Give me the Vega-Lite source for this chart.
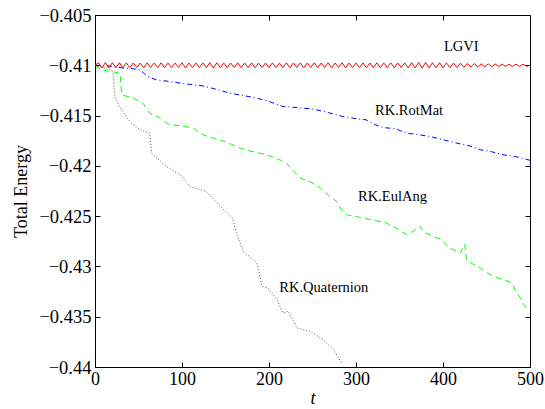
{
  "$schema": "https://vega.github.io/schema/vega-lite/v6.json",
  "width": 435,
  "height": 352,
  "autosize": {"type": "none"},
  "padding": {"left": 95, "top": 15, "right": 15, "bottom": 42},
  "background": "white",
  "config": {
    "view": {"stroke": "black", "strokeWidth": 1},
    "font": "Liberation Serif",
    "axis": {
      "grid": false,
      "domainColor": "black",
      "tickColor": "black",
      "tickSize": -5,
      "labelFlush": false,
      "labelFont": "Liberation Serif",
      "labelFontSize": 18,
      "labelColor": "black",
      "titleFont": "Liberation Serif",
      "titleFontSize": 18,
      "titleFontWeight": "normal",
      "titleColor": "black"
    }
  },
  "resolve": {"axis": {"x": "independent", "y": "independent"}},
  "datasets": {
    "lgvi": [
      {"t":0,"E":-0.41},{"t":4,"E":-0.40974},{"t":8,"E":-0.41026},{"t":12,"E":-0.40972},{"t":16,"E":-0.41026},{"t":20,"E":-0.40974},{"t":24,"E":-0.41024},{"t":28,"E":-0.40974},{"t":32,"E":-0.41026},{"t":36,"E":-0.40976},{"t":40,"E":-0.41024},{"t":44,"E":-0.40978},{"t":48,"E":-0.41022},{"t":52,"E":-0.40978},{"t":56,"E":-0.41024},{"t":60,"E":-0.40976},{"t":64,"E":-0.41022},{"t":68,"E":-0.40978},{"t":72,"E":-0.41022},{"t":76,"E":-0.40976},{"t":80,"E":-0.41024},{"t":84,"E":-0.40978},{"t":88,"E":-0.41022},{"t":92,"E":-0.40978},{"t":96,"E":-0.41022},{"t":100,"E":-0.40976},{"t":104,"E":-0.41024},{"t":108,"E":-0.40978},{"t":112,"E":-0.41022},{"t":116,"E":-0.40978},{"t":120,"E":-0.41022},{"t":124,"E":-0.40976},{"t":128,"E":-0.41024},{"t":132,"E":-0.40974},{"t":136,"E":-0.41026},{"t":140,"E":-0.40976},{"t":144,"E":-0.41024},{"t":148,"E":-0.40978},{"t":152,"E":-0.41022},{"t":156,"E":-0.40978},{"t":160,"E":-0.41022},{"t":164,"E":-0.40976},{"t":168,"E":-0.41024},{"t":172,"E":-0.40978},{"t":176,"E":-0.41022},{"t":180,"E":-0.40976},{"t":184,"E":-0.41024},{"t":188,"E":-0.40978},{"t":192,"E":-0.41022},{"t":196,"E":-0.40978},{"t":200,"E":-0.41022},{"t":204,"E":-0.40976},{"t":208,"E":-0.41024},{"t":212,"E":-0.40978},{"t":216,"E":-0.41022},{"t":220,"E":-0.40976},{"t":224,"E":-0.41024},{"t":228,"E":-0.40978},{"t":232,"E":-0.41022},{"t":236,"E":-0.40976},{"t":240,"E":-0.41024},{"t":244,"E":-0.40978},{"t":248,"E":-0.41022},{"t":252,"E":-0.40976},{"t":256,"E":-0.41024},{"t":260,"E":-0.40978},{"t":264,"E":-0.41022},{"t":268,"E":-0.40976},{"t":272,"E":-0.41024},{"t":276,"E":-0.40978},{"t":280,"E":-0.41022},{"t":284,"E":-0.40976},{"t":288,"E":-0.41024},{"t":292,"E":-0.40978},{"t":296,"E":-0.41022},{"t":300,"E":-0.40978},{"t":304,"E":-0.41022},{"t":308,"E":-0.40976},{"t":312,"E":-0.41024},{"t":316,"E":-0.40978},{"t":320,"E":-0.41022},{"t":324,"E":-0.40976},{"t":328,"E":-0.41024},{"t":332,"E":-0.40978},{"t":336,"E":-0.41022},{"t":340,"E":-0.40976},{"t":344,"E":-0.41024},{"t":348,"E":-0.40978},{"t":352,"E":-0.41022},{"t":356,"E":-0.40976},{"t":360,"E":-0.41026},{"t":364,"E":-0.40974},{"t":368,"E":-0.41026},{"t":372,"E":-0.40972},{"t":376,"E":-0.41028},{"t":380,"E":-0.40972},{"t":384,"E":-0.41026},{"t":388,"E":-0.40974},{"t":392,"E":-0.41026},{"t":396,"E":-0.40974},{"t":400,"E":-0.41024},{"t":404,"E":-0.40976},{"t":408,"E":-0.41024},{"t":412,"E":-0.40978},{"t":416,"E":-0.41022},{"t":420,"E":-0.4098},{"t":424,"E":-0.4102},{"t":428,"E":-0.40982},{"t":432,"E":-0.41018},{"t":436,"E":-0.40983},{"t":440,"E":-0.41017},{"t":444,"E":-0.40985},{"t":448,"E":-0.41015},{"t":452,"E":-0.40986},{"t":456,"E":-0.41014},{"t":460,"E":-0.40988},{"t":464,"E":-0.41012},{"t":468,"E":-0.40988},{"t":472,"E":-0.41012},{"t":476,"E":-0.40989},{"t":480,"E":-0.41011},{"t":484,"E":-0.40989},{"t":488,"E":-0.41011},{"t":492,"E":-0.4099},{"t":496,"E":-0.4101},{"t":500,"E":-0.41}
    ],
    "rotmat": [
      {"t":0,"E":-0.41},{"t":10,"E":-0.41005},{"t":20,"E":-0.4101},{"t":30,"E":-0.41025},{"t":40,"E":-0.4103},{"t":52,"E":-0.41046},{"t":60,"E":-0.4111},{"t":71,"E":-0.41146},{"t":85,"E":-0.4116},{"t":98,"E":-0.41178},{"t":110,"E":-0.4119},{"t":124,"E":-0.41205},{"t":140,"E":-0.4124},{"t":155,"E":-0.41277},{"t":170,"E":-0.413},{"t":186,"E":-0.41327},{"t":200,"E":-0.4136},{"t":216,"E":-0.4141},{"t":232,"E":-0.4142},{"t":251,"E":-0.41436},{"t":268,"E":-0.4147},{"t":285,"E":-0.4151},{"t":300,"E":-0.4153},{"t":312,"E":-0.41543},{"t":322,"E":-0.4159},{"t":331,"E":-0.41619},{"t":345,"E":-0.4163},{"t":358,"E":-0.41675},{"t":372,"E":-0.4169},{"t":385,"E":-0.41708},{"t":400,"E":-0.4174},{"t":416,"E":-0.41774},{"t":430,"E":-0.418},{"t":443,"E":-0.4184},{"t":456,"E":-0.4186},{"t":469,"E":-0.4189},{"t":485,"E":-0.4191},{"t":500,"E":-0.41945}
    ],
    "eulang": [
      {"t":0,"E":-0.41},{"t":8,"E":-0.41046},{"t":19,"E":-0.41063},{"t":29,"E":-0.4108},{"t":30,"E":-0.4123},{"t":31,"E":-0.41294},{"t":44,"E":-0.41327},{"t":55,"E":-0.41377},{"t":63,"E":-0.41476},{"t":75,"E":-0.41526},{"t":84,"E":-0.41586},{"t":98,"E":-0.41602},{"t":113,"E":-0.41625},{"t":124,"E":-0.4169},{"t":136,"E":-0.41725},{"t":150,"E":-0.4176},{"t":167,"E":-0.41824},{"t":182,"E":-0.4186},{"t":197,"E":-0.4189},{"t":210,"E":-0.4193},{"t":220,"E":-0.41973},{"t":228,"E":-0.4205},{"t":236,"E":-0.42122},{"t":248,"E":-0.4216},{"t":259,"E":-0.42221},{"t":268,"E":-0.4229},{"t":278,"E":-0.42354},{"t":283,"E":-0.4243},{"t":289,"E":-0.42486},{"t":298,"E":-0.425},{"t":308,"E":-0.42519},{"t":320,"E":-0.4254},{"t":335,"E":-0.42568},{"t":346,"E":-0.4262},{"t":358,"E":-0.42684},{"t":366,"E":-0.4265},{"t":370,"E":-0.4262},{"t":374,"E":-0.42602},{"t":378,"E":-0.4266},{"t":389,"E":-0.42701},{"t":397,"E":-0.4273},{"t":408,"E":-0.42817},{"t":420,"E":-0.42866},{"t":425,"E":-0.4278},{"t":427,"E":-0.42933},{"t":435,"E":-0.4298},{"t":443,"E":-0.43016},{"t":452,"E":-0.4307},{"t":462,"E":-0.43115},{"t":470,"E":-0.4313},{"t":479,"E":-0.43165},{"t":485,"E":-0.43264},{"t":490,"E":-0.4333},{"t":494,"E":-0.43397},{"t":500,"E":-0.4343}
    ],
    "quat": [
      {"t":0,"E":-0.41},{"t":11.5,"E":-0.41029},{"t":19,"E":-0.41046},{"t":21,"E":-0.41096},{"t":22,"E":-0.41228},{"t":23,"E":-0.41327},{"t":30.6,"E":-0.41443},{"t":40,"E":-0.4156},{"t":52,"E":-0.41642},{"t":63,"E":-0.41675},{"t":65,"E":-0.41873},{"t":82,"E":-0.42006},{"t":98,"E":-0.42089},{"t":109,"E":-0.42205},{"t":128,"E":-0.42254},{"t":144,"E":-0.42403},{"t":158,"E":-0.4252},{"t":163,"E":-0.4268},{"t":166,"E":-0.4275},{"t":170.5,"E":-0.4285},{"t":186,"E":-0.42965},{"t":192,"E":-0.43198},{"t":199,"E":-0.43214},{"t":209,"E":-0.4333},{"t":216,"E":-0.43463},{"t":222,"E":-0.43446},{"t":232,"E":-0.43611},{"t":247,"E":-0.43645},{"t":262,"E":-0.43727},{"t":274,"E":-0.43826},{"t":283.5,"E":-0.43959}
    ],
    "labels": [
      {"t":421,"E":-0.40818,"label":"LGVI"},
      {"t":361,"E":-0.41458,"label":"RK.RotMat"},
      {"t":342,"E":-0.42312,"label":"RK.EulAng"},
      {"t":263,"E":-0.43216,"label":"RK.Quaternion"}
    ]
  },
  "layer": [
    {
      "data": {"name": "quat"},
      "mark": {"type": "line", "color": "#555555", "strokeWidth": 1, "strokeDash": [1, 2]},
      "encoding": {
        "x": {"field": "t", "type": "quantitative", "scale": {"domain": [0, 500], "nice": false},
              "axis": {"values": [0, 100, 200, 300, 400, 500], "title": "t", "titleFontStyle": "italic", "labelPadding": 8.5, "titlePadding": 1}},
        "y": {"field": "E", "type": "quantitative", "scale": {"domain": [-0.44, -0.405], "nice": false, "zero": false},
              "axis": {"values": [-0.44, -0.435, -0.43, -0.425, -0.42, -0.415, -0.41, -0.405], "format": ".3~f", "title": "Total Energy", "labelPadding": 9, "labelFontSize": 18.5, "titlePadding": 8}}
      }
    },
    {
      "data": {"name": "eulang"},
      "mark": {"type": "line", "color": "#00ff00", "strokeWidth": 1, "strokeDash": [6, 4]},
      "encoding": {
        "x": {"field": "t", "type": "quantitative", "axis": {"orient": "top", "values": [0, 100, 200, 300, 400, 500], "labels": false, "title": null, "domain": false}},
        "y": {"field": "E", "type": "quantitative", "axis": {"orient": "right", "values": [-0.44, -0.435, -0.43, -0.425, -0.42, -0.415, -0.41, -0.405], "labels": false, "title": null, "domain": false}}
      }
    },
    {
      "data": {"name": "rotmat"},
      "mark": {"type": "line", "color": "#0000ff", "strokeWidth": 1, "strokeDash": [5, 3, 1, 3]},
      "encoding": {
        "x": {"field": "t", "type": "quantitative", "axis": null},
        "y": {"field": "E", "type": "quantitative", "axis": null}
      }
    },
    {
      "data": {"name": "lgvi"},
      "mark": {"type": "line", "color": "#ff0000", "strokeWidth": 1},
      "encoding": {
        "x": {"field": "t", "type": "quantitative", "axis": null},
        "y": {"field": "E", "type": "quantitative", "axis": null}
      }
    },
    {
      "data": {"name": "labels"},
      "mark": {"type": "text", "font": "Liberation Serif", "fontSize": 14.5, "color": "black"},
      "encoding": {
        "x": {"field": "t", "type": "quantitative", "axis": null},
        "y": {"field": "E", "type": "quantitative", "axis": null},
        "text": {"field": "label"}
      }
    }
  ]
}
